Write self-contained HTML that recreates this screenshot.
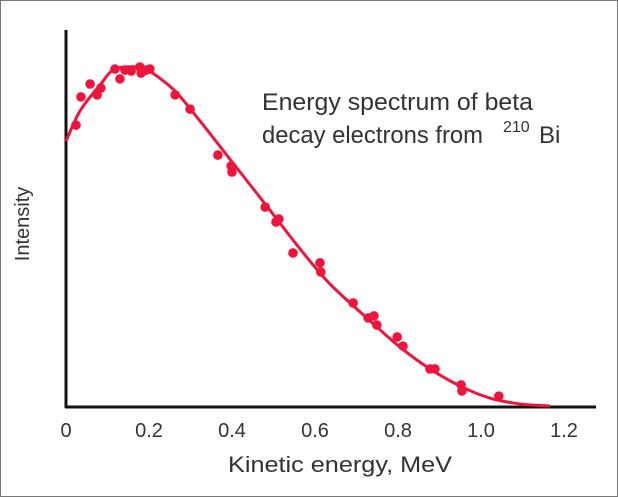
<!DOCTYPE html>
<html><head><meta charset="utf-8"><style>
html,body{margin:0;padding:0;background:#fff;}
svg{display:block;font-family:"Liberation Sans",Arial,sans-serif;}
</style></head><body>
<svg id="chart" width="618" height="497">
<rect x="0.5" y="0.5" width="617" height="496" fill="none" stroke="#777" stroke-width="1"/>
<line x1="66" y1="30" x2="66" y2="408" stroke="#111" stroke-width="3"/>
<line x1="65" y1="407" x2="596" y2="407" stroke="#111" stroke-width="3"/>
<g id="ticks" fill="#333" font-size="20" text-anchor="middle"></g>
<text x="340" y="472" font-size="22" fill="#333" text-anchor="middle" textLength="224" lengthAdjust="spacingAndGlyphs">Kinetic energy, MeV</text>
<text transform="translate(29,224) rotate(-90)" font-size="20" fill="#333" text-anchor="middle">Intensity</text>
<text x="262" y="110" font-size="24" fill="#333" textLength="271" lengthAdjust="spacingAndGlyphs">Energy spectrum of beta</text>
<text x="262" y="143" font-size="24" fill="#333"><tspan textLength="221" lengthAdjust="spacingAndGlyphs">decay electrons from</tspan><tspan x="503" y="132" font-size="16">210</tspan><tspan x="539" y="143">Bi</tspan></text>
<g id="plot"></g>
</svg>
<script>
const xTicks=[0,0.2,0.4,0.6,0.8,1.0,1.2];
const xTickLabels=["0","0.2","0.4","0.6","0.8","1.0","1.2"];
const pointE=[0.024,0.036,0.058,0.075,0.084,0.118,0.130,0.142,0.157,0.178,0.181,0.193,0.202,0.263,0.299,0.366,0.398,0.400,0.480,0.506,0.513,0.547,0.612,0.614,0.692,0.728,0.742,0.749,0.798,0.812,0.877,0.889,0.952,0.954,1.043];
const pointI=[82.9,91.2,95.0,91.8,93.8,99.4,96.5,99.1,98.8,100,98.2,99.1,99.4,91.8,87.6,74.1,70.9,69.1,58.8,54.4,55.3,45.3,42.4,39.7,30.6,26.2,26.8,24.1,20.6,17.9,11.2,11.2,6.5,4.7,3.2];
const curveE=[0,0.034,0.082,0.118,0.178,0.202,0.263,0.323,0.395,0.480,0.564,0.636,0.733,0.805,0.877,0.949,1.022,1.094,1.166];
const curveI=[78.2,87.1,94.7,99.4,100,98.8,92.9,84.1,72.9,59.7,46.5,36.2,25.3,17.6,11.2,6.2,2.6,0.9,0.3];
const xs=e=>66+e*415, ys=v=>407-v*3.4;
const NS="http://www.w3.org/2000/svg";
const tg=document.getElementById('ticks');
xTicks.forEach((t,i)=>{const el=document.createElementNS(NS,'text');el.setAttribute('x',xs(t));el.setAttribute('y',437);el.textContent=xTickLabels[i];


tg.appendChild(el);});
const plot=document.getElementById('plot');
const P=curveE.map((e,i)=>[xs(e),ys(curveI[i])]);
let d='M'+P[0][0]+','+P[0][1];
for(let i=0;i<P.length-1;i++){const p0=P[i-1]||P[i],p1=P[i],p2=P[i+1],p3=P[i+2]||p2;
d+=` C${p1[0]+(p2[0]-p0[0])/6},${p1[1]+(p2[1]-p0[1])/6} ${p2[0]-(p3[0]-p1[0])/6},${p2[1]-(p3[1]-p1[1])/6} ${p2[0]},${p2[1]}`;}
const path=document.createElementNS(NS,'path');path.setAttribute('d',d);path.setAttribute('fill','none');path.setAttribute('stroke','#f0143c');path.setAttribute('stroke-width','3');


plot.appendChild(path);
pointE.forEach((e,i)=>{const c=document.createElementNS(NS,'circle');c.setAttribute('cx',xs(e));c.setAttribute('cy',ys(pointI[i]));c.setAttribute('r',4.8);c.setAttribute('fill','#f0143c');


plot.appendChild(c);});
</script>
</body></html>
